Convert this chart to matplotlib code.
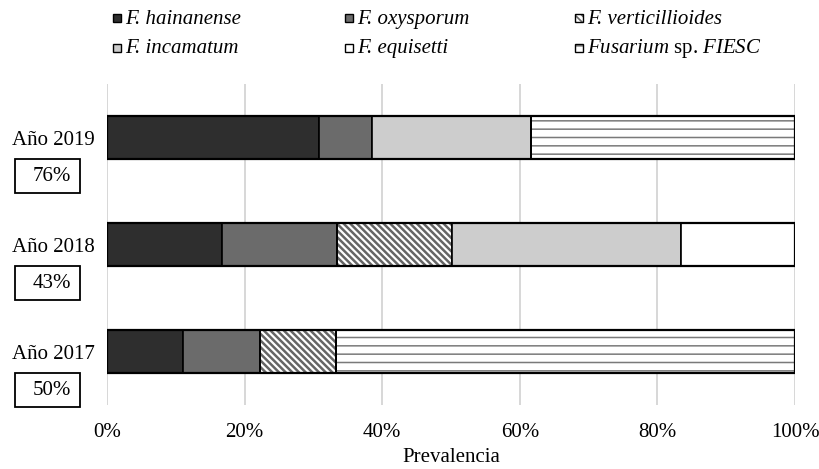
import matplotlib
matplotlib.use("Agg")
import matplotlib.pyplot as plt
import matplotlib.transforms as mtransforms
from matplotlib.patches import Rectangle
import numpy as np

plt.rcParams['font.family'] = ['Liberation Serif', 'DejaVu Serif']
plt.rcParams['mathtext.fontset'] = 'custom'
plt.rcParams['mathtext.it'] = 'Liberation Serif:italic'
plt.rcParams['mathtext.rm'] = 'Liberation Serif'

# datos
years = ["Año 2017", "Año 2018", "Año 2019"]
prevalence = ["50%", "43%", "76%"]
species = ["F. hainanense", "F. oxysporum", "F. verticillioides",
           "F. incamatum", "F. equisetti", r"$\it{Fusarium}$ sp. $\it{FIESC}$"]
# porcentajes por año (2017, 2018, 2019)
hainanense = [11.1, 16.7, 30.8]
oxysporum = [11.1, 16.7, 7.7]
verticillioides = [11.1, 16.7, 0.0]
incamatum = [0.0, 33.3, 23.1]
equisetti = [0.0, 16.6, 0.0]
fiesc = [66.7, 0.0, 38.4]

values = [hainanense, oxysporum, verticillioides, incamatum, equisetti, fiesc]
faces = ["#2e2e2e", "#6b6b6b", "white", "#cdcdcd", "white", "white"]
hatches = [None, None, "\\" * 5, None, None, "--"]
hatch_cols = [None, None, "#666666", None, None, "#7a7a7a"]
hatch_lw = [1.0, 1.0, 1.8, 1.0, 1.0, 1.1]

W, H = 819, 469
fig = plt.figure(figsize=(W / 100, H / 100), dpi=100)
ax = fig.add_axes([107 / W, 1 - 405 / H, 688 / W, 321 / H])

y = np.arange(len(years))
h = 0.4
left = np.zeros(len(years))
for i, vals in enumerate(values):
    vals = np.array(vals)
    if hatches[i]:
        with plt.rc_context({'hatch.linewidth': hatch_lw[i]}):
            ax.barh(y, vals, h, left=left, color=faces[i], hatch=hatches[i],
                    edgecolor=hatch_cols[i], linewidth=0, zorder=2)
    ax.barh(y, vals, h, left=left, color=faces[i] if not hatches[i] else "none",
            edgecolor="black", linewidth=1.2, zorder=3)
    left += vals

# borde exterior
ax.barh(y, left, h, color="none", edgecolor="black", linewidth=1.6, zorder=4)

ax.set_xlim(0, 100)
ax.set_ylim(-0.5, 2.5)
ax.set_xticks(np.arange(0, 101, 20))
ax.set_xticklabels([f"{v}%" for v in range(0, 101, 20)])
ax.set_yticks(y)
ax.set_yticklabels(years)
ax.tick_params(axis="both", length=0, labelsize=15)
ax.tick_params(axis="x", pad=13)
ax.tick_params(axis="y", pad=9)
ax.grid(axis="x", color="#d4d4d4", linewidth=1.3, zorder=0)
ax.set_axisbelow(True)
for s in ax.spines.values():
    s.set_visible(False)
ax.set_xlabel("Prevalencia", fontsize=15, labelpad=4)

# cajas con prevalencia
tr = mtransforms.blended_transform_factory(fig.transFigure, ax.transData)
for yi, p in zip(y, prevalence):
    ax.add_patch(Rectangle((15 / W, yi - 0.52), 65 / W, 0.32, transform=tr,
                           facecolor="white", edgecolor="black", linewidth=1.3,
                           clip_on=False))
    ax.text(52 / W, yi - 0.36, p, transform=tr, fontsize=15,
            ha="center", va="center")

# leyenda (manual, 2 filas x 3 columnas)
col_x = [113, 345, 575]
row_y = [18.5, 47.5]
for i, lab in enumerate(species):
    r, c = divmod(i, 3)
    xm, ym = col_x[c], row_y[r]
    if hatches[i]:
        with plt.rc_context({'hatch.linewidth': 1.2}):
            fig.add_artist(Rectangle((xm / W, 1 - (ym + 4) / H), 8 / W, 8 / H,
                                     transform=fig.transFigure, facecolor="white",
                                     hatch=hatches[i], edgecolor=hatch_cols[i],
                                     linewidth=0))
    fig.add_artist(Rectangle((xm / W, 1 - (ym + 4) / H), 8 / W, 8 / H,
                             transform=fig.transFigure,
                             facecolor="none" if hatches[i] else faces[i],
                             edgecolor="black", linewidth=1.0))
    t = fig.text((xm + 12) / W, 1 - (ym + 5.5) / H, lab, fontsize=15,
                 ha="left", va="baseline")
    if not lab.startswith("$"):
        t.set_fontstyle("italic")

fig.savefig("out.png", dpi=100)
